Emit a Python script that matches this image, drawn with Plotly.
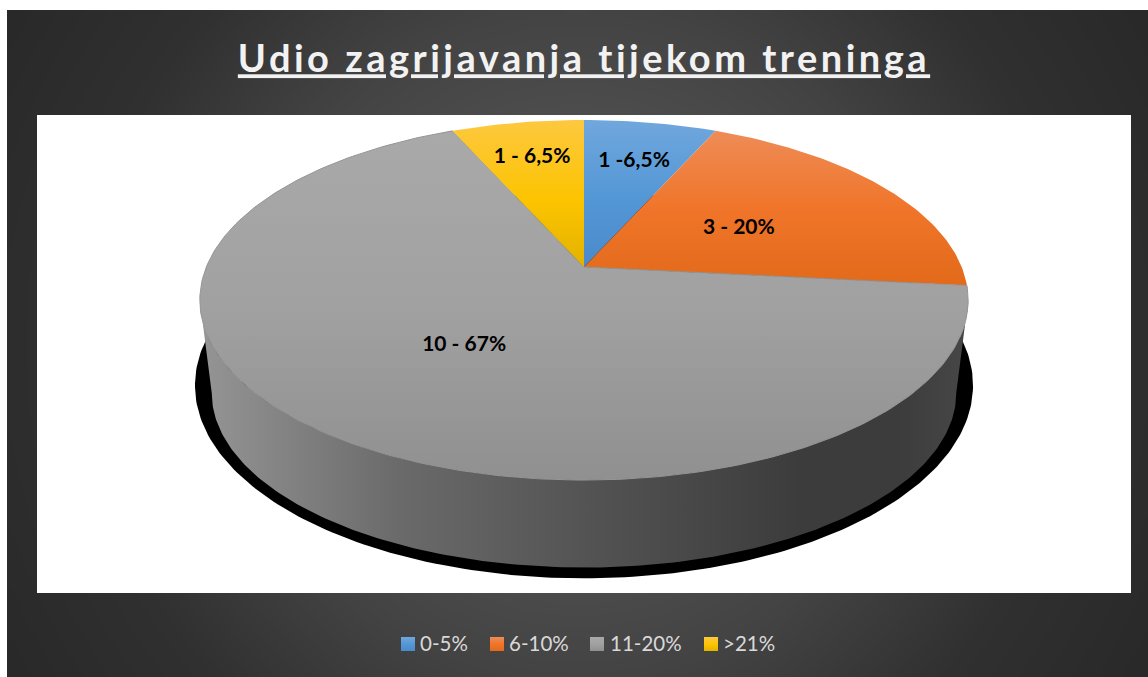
"""
Udio zagrijavanja tijekom treninga - 3D looking pie drawn on pixel sized axes
"""
import numpy as np
import plotly.graph_objects as go

categories = ['0-5%', '6-10%', '11-20%', '>21%']
values = [1, 3, 10, 1]
labels = ['1 -6,5%', '3 - 20%', '10 - 67%', '1 - 6,5%']

# gradient stops run bottom to top because the y axis is flipped
top_colors = [
    [[0, '#4a8acb'], [0.5, '#5598d6'], [1, '#70a7dd']],
    [[0, '#e26a1a'], [0.5, '#f0752a'], [1, '#ee8c57']],
    [[0, '#909090'], [0.5, '#a1a1a1'], [1, '#a9a9a9']],
    [[0, '#e3b200'], [0.45, '#fcc400'], [1, '#fdc840']],
]
label_radius = [0.72, 0.495, 0.50, 0.75]

WIDTH, HEIGHT = 1148, 677
CX = 584
DIST = 5.4545


def project(theta, frac=1.0, cy=267, a=949, b=2060):
    """Clockwise angle from 12 o'clock on the disc to pixels, with perspective"""
    rad = np.radians(theta)
    u = frac * np.sin(rad)
    v = -frac * np.cos(rad)
    return CX + b * u / (DIST - v), cy + a * v / (DIST - v)


def add_poly(fig, x, y, gradient=None, color=None, edge_color=None):
    fig.add_trace(go.Scatter(
        x=list(x),
        y=list(y),
        mode='lines',
        line=dict(width=1 if edge_color else 0, color=edge_color),
        fill='toself',
        fillcolor=color,
        fillgradient=gradient,
        hoverinfo='skip',
        showlegend=False
    ))


fig = go.Figure()

# dark chart area, circular glow around its middle
gx = np.arange(11, WIDTH + 8, 8)
gy = np.arange(14, HEIGHT + 8, 8)
glow = np.hypot(*np.meshgrid(gx - 577, gy - 343))
fig.add_trace(go.Heatmap(
    x=gx,
    y=gy,
    z=glow,
    zmin=0,
    zmax=670,
    zsmooth='best',
    showscale=False,
    hoverinfo='skip',
    colorscale=[[0, '#626262'], [0.38, '#4a4a4a'], [0.5, '#434343'],
                [0.74, '#303030'], [0.84, '#2d2d2d'], [1, '#282828']]
))
add_poly(fig, [37, 1131, 1131, 37, 37], [115, 115, 593, 593, 115], color='#ffffff')

# black shadow under the disc
ring = np.linspace(0, 360, 361)
sx, sy = project(ring, cy=350, a=1017, b=2086)
add_poly(fig, sx, sy, color='#000000')

# side wall between the silhouette points of the top and bottom rims
edge = np.degrees(np.arccos(-1 / DIST))
front = np.linspace(edge, 360 - edge, 200)
tx, ty = project(front)
bx, by = project(front, cy=361, a=920, b=1996)
add_poly(fig, np.r_[tx, bx[::-1], tx[0]], np.r_[ty, by[::-1], ty[0]],
         gradient=dict(type='horizontal', colorscale=[
             [0, '#959595'], [0.26, '#6a6a6a'], [0.52, '#525252'],
             [0.78, '#3c3c3c'], [0.91, '#3c3c3c'], [1, '#474747']]))

# top face slices, the big grey one gets a hairline to hide the seam with the wall
shares = np.array(values) / sum(values) * 360
starts = np.r_[0, np.cumsum(shares)[:-1]]
for i, (start, share, scale) in enumerate(zip(starts, shares, top_colors)):
    arc = np.linspace(start, start + share, max(int(share), 2) + 1)
    ax, ay = project(arc)
    add_poly(fig, np.r_[CX, ax, CX], np.r_[267, ay, 267],
             gradient=dict(type='vertical', colorscale=scale),
             edge_color='#969696' if i == 2 else None)

# data labels
lx, ly = project(starts + shares / 2, frac=np.array(label_radius))
fig.add_trace(go.Scatter(
    x=lx,
    y=ly + 3,
    mode='text',
    text=[f'<b>{t}</b>' for t in labels],
    textposition='middle center',
    textfont=dict(family='Lato', size=21, color='#000000'),
    hoverinfo='skip',
    showlegend=False
))

# legend row
swatch_x = [401, 490, 590, 704]
text_x = [418, 507, 608, 721]
for name, x0, x1, scale in zip(categories, swatch_x, text_x, top_colors):
    add_poly(fig, [x0, x0 + 14, x0 + 14, x0, x0], [637, 637, 651, 651, 637],
             gradient=dict(type='vertical', colorscale=scale))
    fig.add_annotation(x=x1, y=643, text=name, showarrow=False, xanchor='left',
                       font=dict(family='Lato', size=20.5, color='#d9d9d9'))

fig.update_layout(
    title=dict(
        text='<b>Udio zagrijavanja tijekom treninga</b>',
        x=584 / WIDTH,
        xanchor='center',
        y=1 - 59 / HEIGHT,
        yanchor='middle',
        font=dict(family='Lato', size=38, color='#f2f2f2', lineposition='under')
    ),
    width=WIDTH,
    height=HEIGHT,
    margin=dict(l=0, r=0, t=0, b=0),
    paper_bgcolor='#ffffff',
    plot_bgcolor='#ffffff',
    xaxis=dict(range=[0, WIDTH], visible=False, fixedrange=True),
    yaxis=dict(range=[HEIGHT, 0], visible=False, fixedrange=True),
    showlegend=False
)

post = """
document.body.style.margin = '0';
document.querySelectorAll('.gtitle').forEach(function (t) { t.style.letterSpacing = '3.5px'; });
"""
fig.write_html("out.html", post_script=post, config=dict(displayModeBar=False))
